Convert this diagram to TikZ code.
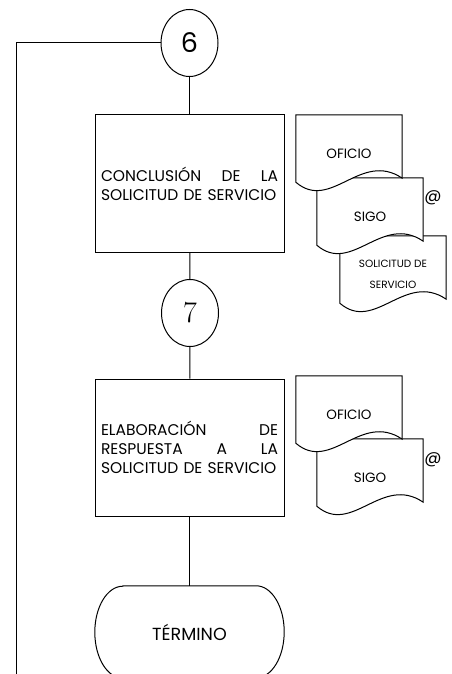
\documentclass[tikz,border=0pt]{standalone}
\usepackage{fontspec}
\newfontfamily\gothic{Poppins}
\usetikzlibrary{shapes.geometric, calc, positioning}
\tikzset{
  procbox/.style={rectangle, draw=black, fill=white, line width=1pt,
                  minimum width=189pt, minimum height=137pt, text width=177pt,
                  inner sep=6pt, align=left, font=\gothic\fontsize{15.5}{19}\selectfont},
  connector/.style={ellipse, draw=black, fill=white, line width=1pt,
                    minimum width=57pt, minimum height=67pt, inner sep=0pt},
  docnode/.style={rectangle, minimum width=106pt, minimum height=77pt, inner sep=0pt,
                  align=center, font=\gothic\fontsize{13.5}{15}\selectfont},
  docline/.style={draw=black, fill=white, line width=1pt},
  termbox/.style={rectangle, minimum width=189pt, minimum height=92pt,
                  font=\gothic\fontsize{17.5}{19}\selectfont},
  flowline/.style={draw=black, line width=1pt},
  atlabel/.style={font=\gothic\fontsize{17}{19}\selectfont},
}
% document symbol drawn round a docnode
\newcommand{\docoutline}[1]{%
  \path[docline] (#1.north west) -- (#1.north east) -- ($(#1.south east)+(0,-14)$)
    .. controls ($(#1.south west)+(65,-42)$) and ($(#1.south west)+(35,20)$)
    .. ($(#1.south west)+(0,-10)$) -- cycle;}

\begin{document}
\begin{tikzpicture}[x=1pt, y=-1pt]
  \useasboundingbox (0,0) rectangle (451,674);

  % --- Connectors and process boxes ---
  \node[connector, font=\gothic\fontsize{27}{30}\selectfont] (c6) at (189.5, 43) {6};
  \node[procbox] (conclusion) at (189.5, 183.5)
    {CONCLUSIÓN\hfill DE\hfill LA\\SOLICITUD DE SERVICIO};
  \node[connector, font=\fontsize{30}{32}\selectfont] (c7) at (190, 313) {7};
  \node[procbox] (respuesta) at (189.5, 447.5)
    {ELABORACIÓN\hfill DE\\RESPUESTA\hfill A\hfill LA\\SOLICITUD DE SERVICIO};
  \node[termbox] (termino) at (189.5, 632) {TÉRMINO};
  \coordinate (loopend) at (16, 680);

  % --- Lines ---
  \draw[flowline] (c6.west) -| (loopend);
  \draw[flowline] (c6) -- (conclusion);
  \draw[flowline] (conclusion) -- (c7);
  \draw[flowline] (c7) -- (respuesta);
  \draw[flowline] (respuesta) -- (termino);

  % Terminal outline
  \draw[flowline] ([xshift=28pt]termino.north west) -- ([xshift=-28pt]termino.north east)
    arc[start angle=90, end angle=-90, x radius=28pt, y radius=46pt]
    -- ([xshift=28pt]termino.south west)
    arc[start angle=270, end angle=90, x radius=28pt, y radius=46pt] -- cycle;

  % --- Documents of the first step (back to front) ---
  \node[docnode] (solicitud) at (393, 274.5) {};
  \docoutline{solicitud}
  \node[docnode, font=\gothic\fontsize{10.5}{21}\selectfont] at (solicitud) {SOLICITUD DE\\SERVICIO};
  \node[docnode] (sigoa) at (370, 216.5) {};
  \docoutline{sigoa}
  \node[docnode] at (sigoa) {SIGO};
  \node[docnode] (oficioa) at (349, 153.5) {};
  \docoutline{oficioa}
  \node[docnode] at (oficioa) {OFICIO};
  \node[atlabel] (ata) at (433, 198) {@};

  % --- Documents of the second step ---
  \node[docnode] (sigob) at (370, 477.5) {};
  \docoutline{sigob}
  \node[docnode] at (sigob) {SIGO};
  \node[docnode] (oficiob) at (349, 414.5) {};
  \docoutline{oficiob}
  \node[docnode] at (oficiob) {OFICIO};
  \node[atlabel] (atb) at (433, 460) {@};

\end{tikzpicture}
\end{document}
